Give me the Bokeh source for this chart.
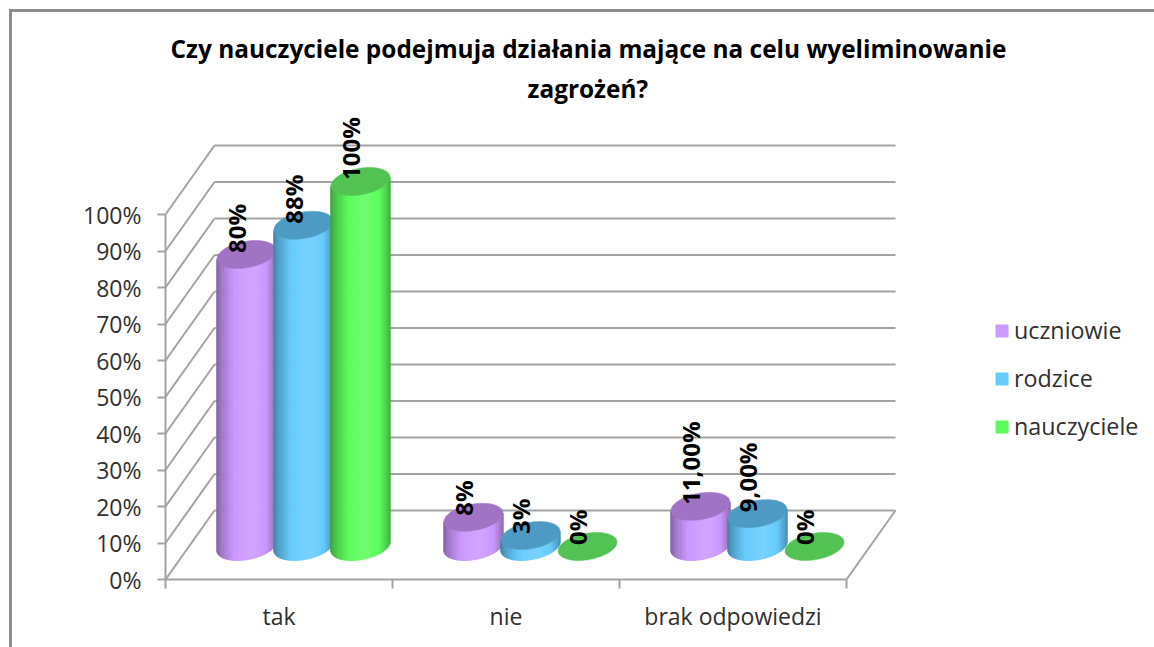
import math
from bokeh.plotting import figure
from bokeh.embed import file_html
from bokeh.resources import INLINE
from bokeh.core.properties import value
from bokeh.models import (ColumnDataSource, FixedTicker, InlineStyleSheet, Legend, LegendItem,
                          Range1d, Title)

TITLE_LINES = ["Czy nauczyciele podejmuja działania mające na celu wyeliminowanie", "zagrożeń?"]
categories = ["tak", "nie", "brak odpowiedzi"]
series_names = ["uczniowie", "rodzice", "nauczyciele"]
uczniowie = [80, 8, 11]
rodzice = [88, 3, 9]
nauczyciele = [100, 0, 0]
labels_uczniowie = ["80%", "8%", "11,00%"]
labels_rodzice = ["88%", "3%", "9,00%"]
labels_nauczyciele = ["100%", "0%", "0%"]
y_ticks = list(range(0, 101, 10))
body_colors = ["#cc99ff", "#66ccff", "#5cfc5c"]
cap_colors = ["#a173c4", "#4d9bc4", "#52c352"]

# pixel scales of the plot's axes
PX_X = 227.0
PX_Y = 3.65
DEPTH_X = 49.0
DEPTH_Y = 69.0
FONT = "Open Sans"
GRID = "#a3a3a3"

p = figure(width=1154, height=647, output_backend="svg", toolbar_location=None,
           x_range=Range1d(0, 989 / PX_X), y_range=Range1d(0, 469 / PX_Y),
           min_border_left=165, min_border_right=0, min_border_top=110, min_border_bottom=68,
           background_fill_color="white", border_fill_color="white", outline_line_color=None)
p.grid.visible = False
p.stylesheets = [InlineStyleSheet(css=":host::after { content: ''; position: absolute; left: 9px; top: 9px;"
                                      " right: 0; bottom: 0; border-top: 3px solid #8c8c8c;"
                                      " border-left: 3px solid #8c8c8c; pointer-events: none; }")]

for line, off, so in zip(reversed(TITLE_LINES), (362, 5), (12, -3)):
    p.add_layout(Title(text=line, align="left", offset=off, text_font=FONT,
                       text_font_size="24.4px", text_font_style="bold", text_color="#000000",
                       standoff=so), "above")

# axes
ya = p.yaxis[0]
ya.ticker = FixedTicker(ticks=y_ticks)
ya.major_label_overrides = {v: f"{v}%" for v in y_ticks}
ya.bounds = (0, 100)
ya.axis_line_color = GRID
ya.axis_line_width = 2
ya.major_tick_line_color = GRID
ya.major_tick_line_width = 2
ya.major_tick_out = 8
ya.major_tick_in = 0
ya.minor_tick_line_color = None
ya.major_label_text_font = FONT
ya.major_label_text_font_size = "23px"
ya.major_label_text_color = "#303030"
ya.major_label_standoff = 16

xa = p.xaxis[0]
xa.ticker = FixedTicker(ticks=[i + 0.5 for i in range(len(categories))],
                        minor_ticks=list(range(len(categories) + 1)))
xa.major_label_overrides = {i + 0.5: c for i, c in enumerate(categories)}
xa.bounds = (0, len(categories))
xa.axis_line_color = GRID
xa.axis_line_width = 2
xa.major_tick_line_color = None
xa.minor_tick_line_color = GRID
xa.minor_tick_line_width = 2
xa.minor_tick_out = 9
xa.minor_tick_in = 0
xa.major_label_text_font = FONT
xa.major_label_text_font_size = "23px"
xa.major_label_text_color = "#303030"
xa.major_label_standoff = 11

# walls: diagonals from each tick, horizontal back lines
dx, dy = DEPTH_X / PX_X, DEPTH_Y / PX_Y
nc = len(categories)
p.segment(x0=[0] * len(y_ticks), y0=y_ticks, x1=[dx] * len(y_ticks), y1=[v + dy for v in y_ticks],
          line_color=GRID, line_width=2)
p.segment(x0=[dx] * len(y_ticks), y0=[v + dy for v in y_ticks],
          x1=[nc + dx] * len(y_ticks), y1=[v + dy for v in y_ticks],
          line_color=GRID, line_width=2)
p.segment(x0=[nc], y0=[0], x1=[nc + dx], y1=[dy], line_color=GRID, line_width=2)


def shade(col, f):
    r, g, b = (int(col[i:i + 2], 16) for i in (1, 3, 5))
    if f <= 1:
        r, g, b = r * f, g * f, b * f
    else:
        k = f - 1
        r, g, b = r + (255 - r) * k, g + (255 - g) * k, b + (255 - b) * k
    return "#%02x%02x%02x" % (int(r), int(g), int(b))


def factor(s):
    stops = [(0, .66), (.12, .82), (.3, 1.0), (.6, 1.12), (.85, .98), (1, .72)]
    for (a, fa), (b, fb) in zip(stops, stops[1:]):
        if s <= b:
            return fa + (fb - fa) * (s - a) / (b - a)
    return stops[-1][1]


A, BX, BY = 28.0, 9.2, 14.0   # cylinder's section on screen
BASE_Y = 33.0                 # centre of the base above the front floor line
STEP = 57.0
T_START = math.pi + math.atan(BX / A)
T_END = 2 * math.pi + math.atan(BX / A)


def section(cx, base, t):
    return (cx + (A * math.cos(t) + BX * math.sin(t)) / PX_X,
            base + (BY * math.sin(t)) / PX_Y)


all_values = [uczniowie, rodzice, nauczyciele]
all_labels = [labels_uczniowie, labels_rodzice, labels_nauczyciele]
N = 40
lab = dict(x=[], y=[], text=[])
legend_items = []
for c in range(nc):
    for j, vals in enumerate(all_values):
        v = vals[c]
        cx = c + 0.5 + (j - 1) * STEP / PX_X + 0.5 * dx
        b0 = BASE_Y / PX_Y
        if v > 0:
            xs, ys, cols = [], [], []
            for k in range(N):
                t0 = T_START + (T_END - T_START) * k / N
                t1 = T_START + (T_END - T_START) * (k + 1) / N
                x0, y0 = section(cx, b0, t0)
                x1, y1 = section(cx, b0, t1)
                xs.append([x0, x1, x1, x0])
                ys.append([y0, y1, y1 + v, y0 + v])
                s = ((x0 + x1) / 2 - cx) * PX_X / 59 + .5
                cols.append(shade(body_colors[j], factor(s)))
            p.patches(xs="xs", ys="ys", fill_color="cols", line_color="cols", line_width=0.8,
                      source=ColumnDataSource(dict(xs=xs, ys=ys, cols=cols)))
        pts = [section(cx, b0 + v, 2 * math.pi * k / 60) for k in range(60)]
        p.patch([a for a, _ in pts], [b for _, b in pts], fill_color=cap_colors[j],
                line_color=cap_colors[j], line_width=0.5)
        lab["x"].append(cx - 10.5 / PX_X)
        lab["y"].append(b0 + v + 1.5 / PX_Y)
        lab["text"].append(all_labels[j][c])

p.text(x="x", y="y", text="text", source=ColumnDataSource(lab), angle=math.pi / 2,
       text_align="left", text_baseline="middle", text_font=value(FONT),
       text_font_size="24px", text_font_style="bold", text_color="#000000")

# legend
nan = float("nan")
for name, col in zip(series_names, body_colors):
    r = p.quad(left=[nan], right=[nan], top=[nan], bottom=[nan], fill_color=col, line_color=col)
    legend_items.append(LegendItem(label=name, renderers=[r]))
legend = Legend(items=legend_items, location=(829, 137), orientation="vertical",
                glyph_width=15, glyph_height=15, label_standoff=5, spacing=16,
                margin=0, padding=0, border_line_color=None, background_fill_alpha=0,
                label_text_font=FONT, label_text_font_size="23.3px", label_text_color="#303030")
p.add_layout(legend)

open("out.html", "w").write(file_html(p, INLINE))
